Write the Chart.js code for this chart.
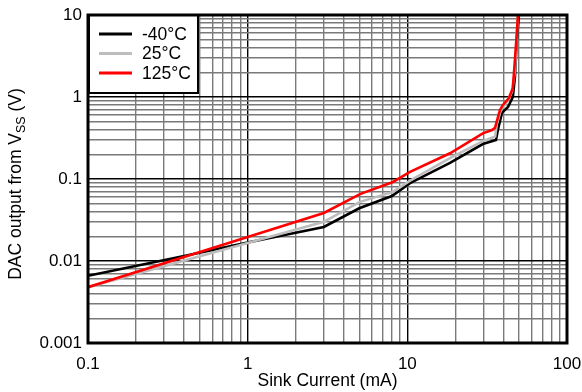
<!DOCTYPE html>
<html>
<head>
<meta charset="utf-8">
<script src="https://cdn.jsdelivr.net/npm/chart.js@4/dist/chart.umd.min.js"></script>
<style>
  html, body { margin: 0; padding: 0; background: #fff; }
  canvas { display: block; }
</style>
</head>
<body>
<canvas id="sinkChart" width="582" height="392"></canvas>
<script>
// tick labels (log decades)
const xTickLabels = ['0.1', '1', '10', '100'];
const yTickLabels = ['0.001', '0.01', '0.1', '1', '10'];

const seriesNames = ['-40°C', '25°C', '125°C'];

// sink current (mA) / DAC output (V) per temperature
const currentM40 = [0.1, 0.4, 1, 3, 5, 8, 10.4, 18.5, 29.7, 35.9, 36.9, 39.1, 42.7, 45.8, 47.2, 48.5, 50];
const outputM40  = [0.0066, 0.0115, 0.0168, 0.026, 0.044, 0.062, 0.089, 0.157, 0.267, 0.30, 0.396, 0.64, 0.755, 1.0, 1.75, 4.96, 10];

const current25 = [0.1, 1, 3, 5.05, 8.13, 10.4, 18.5, 29.7, 35.5, 36.3, 38.5, 42, 45.2, 47.2, 48.5, 49.3];
const output25  = [0.0048, 0.0166, 0.030, 0.0526, 0.0696, 0.0956, 0.18, 0.29, 0.33, 0.46, 0.69, 0.87, 1.15, 2.1, 5.7, 10];

const current125 = [0.1, 1, 3, 5.05, 8.13, 10.4, 18.5, 29.7, 33.9, 35.4, 38, 39.7, 43.3, 45.8, 47.2, 48.5, 49.3];
const output125  = [0.0048, 0.0196, 0.0385, 0.0655, 0.092, 0.122, 0.206, 0.36, 0.395, 0.42, 0.69, 0.80, 0.97, 1.29, 2.83, 6.0, 10];

const FONT = '"Liberation Sans", Arial, Helvetica, sans-serif';
Chart.defaults.font.family = FONT;
Chart.defaults.color = '#000';

function zip(xs, ys) {
    return xs.map((x, i) => ({ x: x, y: ys[i] }));
}

function isDecade(v) {
    const l = Math.log10(v);
    return Math.abs(l - Math.round(l)) < 1e-6;
}

// 1..9 x 10^n grid positions between first and last label
function decadeTicks(labels) {
    const lo = Math.round(Math.log10(parseFloat(labels[0])));
    const hi = Math.round(Math.log10(parseFloat(labels[labels.length - 1])));
    const out = [];
    for (let e = lo; e < hi; e++) {
        for (let m = 1; m < 10; m++) out.push({ value: m * Math.pow(10, e) });
    }
    out.push({ value: Math.pow(10, hi) });
    return out;
}

function labelFor(labels) {
    return function (value) {
        const hit = labels.find(l => Math.abs(parseFloat(l) / value - 1) < 1e-6);
        return hit === undefined ? '' : hit;
    };
}

const gridStyle = {
    color: ctx => (ctx.tick && !isDecade(ctx.tick.value)) ? '#7a7a7a' : '#000',
    lineWidth: 1.4,
    drawTicks: false
};

// y title with subscript, drawn by hand
const yTitle = {
    id: 'yTitle',
    afterDraw(chart) {
        const c = chart.ctx;
        const parts = [
            { t: 'DAC output from V', size: 17.5, dy: 0 },
            { t: 'SS', size: 12.5, dy: 4 },
            { t: ' (V)', size: 17.5, dy: 0 }
        ];
        c.save();
        let total = 0;
        parts.forEach(p => {
            c.font = p.size + 'px ' + FONT;
            p.w = c.measureText(p.t).width;
            total += p.w;
        });
        c.translate(21, 184);
        c.rotate(-Math.PI / 2);
        c.fillStyle = '#000';
        c.textBaseline = 'alphabetic';
        c.textAlign = 'left';
        let x = -total / 2;
        parts.forEach(p => {
            c.font = p.size + 'px ' + FONT;
            c.fillText(p.t, x, p.dy);
            x += p.w;
        });
        c.restore();
    }
};

// boxed legend in the upper-left corner of the plot
const boxLegend = {
    id: 'boxLegend',
    afterDatasetsDraw(chart) {
        const c = chart.ctx;
        const a = chart.chartArea;
        const left = a.left + 1, top = a.top;
        c.save();
        c.fillStyle = '#fff';
        c.fillRect(left, top, 109, 78);
        c.strokeStyle = '#000';
        c.lineWidth = 2;
        c.strokeRect(left, top, 109, 78);
        c.font = '17.5px ' + FONT;
        c.textBaseline = 'middle';
        c.textAlign = 'left';
        chart.data.datasets.forEach((ds, i) => {
            const y = top + 19 + i * 19.5;
            c.strokeStyle = ds.borderColor;
            c.lineWidth = 3;
            c.beginPath();
            c.moveTo(left + 10, y);
            c.lineTo(left + 43, y);
            c.stroke();
            c.fillStyle = '#000';
            c.fillText(ds.label, left + 53, y + 1);
        });
        c.restore();
    }
};

// heavy frame round the plot area
const frame = {
    id: 'frame',
    afterDraw(chart) {
        const a = chart.chartArea;
        const c = chart.ctx;
        c.save();
        c.strokeStyle = '#000';
        c.lineWidth = 3;
        c.strokeRect(a.left, a.top, a.right - a.left, a.bottom - a.top);
        c.restore();
    }
};

const ctx = document.getElementById('sinkChart').getContext('2d');

new Chart(ctx, {
    type: 'scatter',
    data: {
        datasets: [{
                label: seriesNames[0],
                data: zip(currentM40, outputM40),
                borderColor: '#000000',
                order: 2
            },
            {
                label: seriesNames[1],
                data: zip(current25, output25),
                borderColor: '#bdbdbd',
                order: 1
            },
            {
                label: seriesNames[2],
                data: zip(current125, output125),
                borderColor: '#ff0000',
                order: 0
            }
        ]
    },
    options: {
        responsive: false,
        animation: false,
        showLine: true,
        elements: {
            point: { radius: 0, hoverRadius: 0 },
            line: { borderWidth: 2.6, tension: 0 }
        },
        layout: { padding: { top: 15, right: 15, left: 0, bottom: 0 } },
        plugins: {
            legend: { display: false },
            tooltip: { enabled: false }
        },
        scales: {
            x: {
                type: 'logarithmic',
                min: parseFloat(xTickLabels[0]),
                max: parseFloat(xTickLabels[xTickLabels.length - 1]),
                afterBuildTicks: s => { s.ticks = decadeTicks(xTickLabels); },
                afterFit: s => {
                    s.height = 49;
                    s.paddingLeft = 0;
                    s.paddingRight = 0;
                },
                grid: gridStyle,
                border: { display: false },
                ticks: {
                    autoSkip: false,
                    maxRotation: 0,
                    padding: 11,
                    font: { size: 17 },
                    callback: labelFor(xTickLabels)
                },
                title: {
                    display: true,
                    text: 'Sink Current (mA)',
                    font: { size: 17.5 },
                    padding: { top: 0, bottom: 0 }
                }
            },
            y: {
                type: 'logarithmic',
                min: parseFloat(yTickLabels[0]),
                max: parseFloat(yTickLabels[yTickLabels.length - 1]),
                afterBuildTicks: s => { s.ticks = decadeTicks(yTickLabels); },
                afterFit: s => {
                    s.width = 88;
                    s.paddingTop = 0;
                    s.paddingBottom = 0;
                },
                grid: gridStyle,
                border: { display: false },
                ticks: {
                    autoSkip: false,
                    padding: 6,
                    font: { size: 17 },
                    callback: labelFor(yTickLabels)
                }
            }
        }
    },
    plugins: [boxLegend, frame, yTitle]
});
</script>
</body>
</html>
